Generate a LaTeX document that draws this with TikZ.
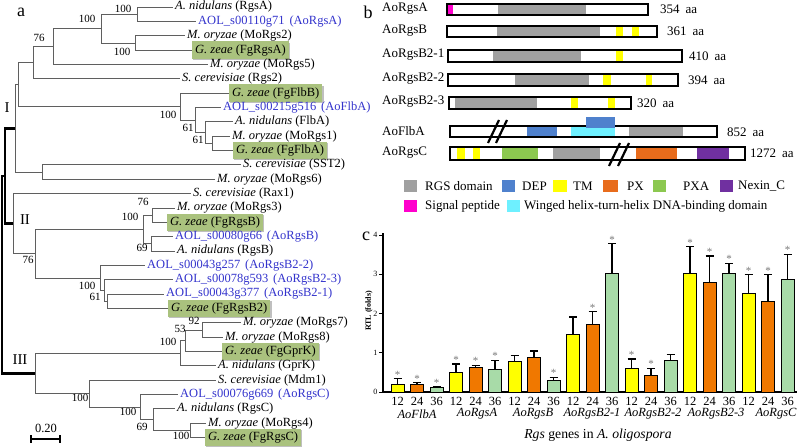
\documentclass[tikz,border=0pt]{standalone}
\usepackage{fontspec}
\setmainfont{Liberation Serif}
\newfontfamily\tnr{Liberation Serif}
\usetikzlibrary{shadows}
\definecolor{aolblue}{RGB}{51,51,204}
\definecolor{gzgreen}{RGB}{170,194,126}
\definecolor{treegray}{RGB}{95,95,95}
\definecolor{rgsgray}{RGB}{160,160,160}
\definecolor{depblue}{RGB}{79,129,205}
\definecolor{tmyellow}{RGB}{255,255,0}
\definecolor{pxorange}{RGB}{232,108,28}
\definecolor{pxagreen}{RGB}{140,200,80}
\definecolor{nexpurple}{RGB}{112,48,160}
\definecolor{sigmag}{RGB}{255,0,204}
\definecolor{wingcyan}{RGB}{110,240,255}
\definecolor{baryellow}{RGB}{255,255,0}
\definecolor{barorange}{RGB}{240,120,0}
\definecolor{bargreen}{RGB}{168,219,168}
\definecolor{stargray}{RGB}{120,120,120}
\begin{document}
\begin{tikzpicture}[x=1pt,y=-1pt,font=\tnr]
\useasboundingbox (0,0) rectangle (800,447);
\tikzset{
 br/.style={draw=treegray, line width=0.8pt},
 bb/.style={draw=black, line width=2.6pt},
 lf/.style={anchor=west, inner xsep=2pt, inner ysep=1pt, font=\tnr\fontsize{12.5}{14}\selectfont},
 aol/.style={lf, text=aolblue},
 gz/.style={anchor=west, fill=gzgreen, inner xsep=3pt, inner ysep=3pt, font=\tnr\fontsize{12.5}{14}\selectfont,
   drop shadow={shadow xshift=1.2pt, shadow yshift=-1.2pt, fill=black, opacity=0.25}},
 bs/.style={inner sep=0pt, font=\tnr\fontsize{11}{12}\selectfont},
 rn/.style={inner sep=0pt, font=\tnr\fontsize{15}{16}\selectfont},
 pl/.style={anchor=west, inner sep=0pt, font=\tnr\fontsize{13}{15}\selectfont},
 ob/.style={draw=black, line width=2.4pt},
 brk/.style={draw=black, line width=2.2pt},
 star/.style={anchor=base, inner sep=0pt, text=stargray, font=\tnr\fontsize{11}{12}\selectfont},
 xt/.style={inner sep=0pt, font=\tnr\fontsize{12.5}{14}\selectfont},
 gn/.style={inner sep=0pt, font=\tnr\fontsize{12.5}{14}\selectfont\itshape},
 yt/.style={anchor=east, inner sep=0pt, font=\tnr\fontsize{8}{9}\selectfont},
 pan/.style={inner sep=0pt, font=\tnr\fontsize{18}{20}\selectfont},
}
% ---------------- panel a ----------------
\node[pan] (pa) at (21,12) {a};
\node[lf] (L0) at (173,7) {\textit{A. nidulans} (RgsA)};
\node[aol] (L1) at (196,21.35) {AOL\_s00110g71\hspace{0.4em}(AoRgsA)};
\node[lf] (L2) at (185,35.7) {\textit{M. oryzae} (MoRgs2)};
\node[gz] (L3) at (192,50.05) {\textit{G. zeae} (FgRgsA)\hspace{12pt}};
\node[lf] (L4) at (208,64.4) {\textit{M. oryzae} (MoRgs5)};
\node[lf] (L5) at (180,78.75) {\textit{S. cerevisiae} (Rgs2)};
\node[gz] (L6) at (229,93.1) {\textit{G. zeae} (FgFlbB)\hspace{8pt}};
\node[aol] (L7) at (221,107.45) {AOL\_s00215g516\hspace{0.4em}(AoFlbA)};
\node[lf] (L8) at (233,121.8) {\textit{A. nidulans} (FlbA)};
\node[lf] (L9) at (230,136.15) {\textit{M. oryzae} (MoRgs1)};
\node[gz] (L10) at (233,150.5) {\textit{G. zeae} (FgFlbA)\hspace{8pt}};
\node[lf] (L11) at (241,164.85) {\textit{S. cerevisiae} (SST2)};
\node[lf] (L12) at (215,179.2) {\textit{M. oryzae} (MoRgs6)};
\node[lf] (L13) at (191,193.55) {\textit{S. cerevisiae} (Rax1)};
\node[lf] (L14) at (175,207.9) {\textit{M. oryzae} (MoRgs3)};
\node[gz] (L15) at (167,222.25) {\textit{G. zeae} (FgRgsB)};
\node[aol] (L16) at (173,236.6) {AOL\_s00080g66\hspace{0.4em}(AoRgsB)};
\node[lf] (L17) at (175,250.95) {\textit{A. nidulans} (RgsB)};
\node[aol] (L18) at (145,265.3) {AOL\_s00043g257\hspace{0.4em}(AoRgsB2-2)};
\node[aol] (L19) at (173,279.65) {AOL\_s00078g593\hspace{0.4em}(AoRgsB2-3)};
\node[aol] (L20) at (164,294) {AOL\_s00043g377\hspace{0.4em}(AoRgsB2-1)};
\node[gz] (L21) at (168,308.35) {\textit{G. zeae} (FgRgsB2)\hspace{10pt}};
\node[lf] (L22) at (241,322.7) {\textit{M. oryzae} (MoRgs7)};
\node[lf] (L23) at (223,337.05) {\textit{M. oryzae} (MoRgs8)};
\node[gz] (L24) at (222,351.4) {\textit{G. zeae} (FgGprK)\hspace{7pt}};
\node[lf] (L25) at (216,365.75) {\textit{A. nidulans} (GprK)};
\node[lf] (L26) at (216,380.1) {\textit{S. cerevisiae} (Mdm1)};
\node[aol] (L27) at (178,394.45) {AOL\_s00076g669\hspace{0.4em}(AoRgsC)};
\node[lf] (L28) at (175,408.8) {\textit{A. nidulans} (RgsC)};
\node[lf] (L29) at (206,423.15) {\textit{M. oryzae} (MoRgs4)};
\node[gz] (L30) at (205,437.5) {\textit{G. zeae} (FgRgsC)\hspace{6pt}};
% internal nodes
\coordinate (n1) at (137,14.2);
\coordinate (n2) at (135,42.9);
\coordinate (n3) at (101,28.55);
\coordinate (n4) at (53,46.5);
\coordinate (n5) at (33,62.6);
\coordinate (f4) at (212,143.3);
\coordinate (f3) at (205,132.6);
\coordinate (f2) at (195,120);
\coordinate (f1) at (180,106.6);
\coordinate (nA) at (18,84.6);
\coordinate (nS) at (42,172);
\coordinate (nI) at (15,128.3);
\coordinate (b1) at (152,215.1);
\coordinate (b2) at (151,243.8);
\coordinate (b3) at (143,229.4);
\coordinate (x3) at (107,301.2);
\coordinate (x2) at (104,290.4);
\coordinate (x1) at (100,277.9);
\coordinate (nB) at (35,253.6);
\coordinate (nII) at (13,223.6);
\coordinate (y3) at (202,329.9);
\coordinate (y2) at (185,340.6);
\coordinate (y1) at (180,353.2);
\coordinate (c3) at (190,430.3);
\coordinate (c2) at (153,419.6);
\coordinate (c1) at (140,407);
\coordinate (cM) at (89,393.6);
\coordinate (nIII) at (35,373.4);
\coordinate (kI) at (5,128.3);
\coordinate (kII) at (5,223.6);
\coordinate (kM) at (5,176);
\coordinate (kR) at (2,176);
\coordinate (kIII) at (2,373.4);
% branches
\draw[br] (n1) |- (L0.west) (n1) |- (L1.west);
\draw[br] (n2) |- (L2.west) (n2) |- (L3.west);
\draw[br] (n3) |- (n1) (n3) |- (n2);
\draw[br] (n4) |- (n3) (n4) |- (L4.west);
\draw[br] (n5) |- (n4) (n5) |- (L5.west);
\draw[br] (f4) |- (L9.west) (f4) |- (L10.west);
\draw[br] (f3) |- (L8.west) (f3) |- (f4);
\draw[br] (f2) |- (L7.west) (f2) |- (f3);
\draw[br] (f1) |- (L6.west) (f1) |- (f2);
\draw[br] (nA) |- (n5) (nA) |- (f1);
\draw[br] (nS) |- (L11.west) (nS) |- (L12.west);
\draw[br] (nI) |- (nA) (nI) |- (nS);
\draw[br] (b1) |- (L14.west) (b1) |- (L15.west);
\draw[br] (b2) |- (L16.west) (b2) |- (L17.west);
\draw[br] (b3) |- (b1) (b3) |- (b2);
\draw[br] (x3) |- (L20.west) (x3) |- (L21.west);
\draw[br] (x2) |- (L19.west) (x2) |- (x3);
\draw[br] (x1) |- (L18.west) (x1) |- (x2);
\draw[br] (nB) |- (b3) (nB) |- (x1);
\draw[br] (nII) |- (L13.west) (nII) |- (nB);
\draw[br] (y3) |- (L22.west) (y3) |- (L23.west);
\draw[br] (y2) |- (y3) (y2) |- (L24.west);
\draw[br] (y1) |- (y2) (y1) |- (L25.west);
\draw[br] (c3) |- (L29.west) (c3) |- (L30.west);
\draw[br] (c2) |- (L28.west) (c2) |- (c3);
\draw[br] (c1) |- (L27.west) (c1) |- (c2);
\draw[br] (cM) |- (L26.west) (cM) |- (c1);
\draw[br] (nIII) |- (y1) (nIII) |- (cM);
\draw[bb] (nI) -- (kI) -- (kII) -- (nII);
\draw[bb] (kM) -- (kR) -- (kIII) -- (nIII);
% bootstrap values
\node[bs] (bs1) at (123,9) {100};
\node[bs] (bs2) at (87,19) {100};
\node[bs] (bs3) at (122,52) {100};
\node[bs] (bs4) at (39,38) {76};
\node[bs] (bs5) at (168,115) {100};
\node[bs] (bs6) at (188,128) {61};
\node[bs] (bs7) at (198,140) {61};
\node[bs] (bs8) at (143,202) {76};
\node[bs] (bs9) at (130,217) {100};
\node[bs] (bs10) at (142,248) {69};
\node[bs] (bs11) at (28,260) {76};
\node[bs] (bs12) at (87,286) {100};
\node[bs] (bs13) at (95,297) {61};
\node[bs] (bs14) at (194,321) {92};
\node[bs] (bs15) at (180,329) {53};
\node[bs] (bs16) at (168,342) {100};
\node[bs] (bs17) at (80,398) {100};
\node[bs] (bs18) at (128,412) {100};
\node[bs] (bs19) at (142,427) {69};
\node[bs] (bs20) at (181,436) {100};
% clade numerals
\node[rn] (rI) at (7,108) {I};
\node[rn] (rII) at (25,220) {II};
\node[rn] (rIII) at (20,360) {III};
% scale bar
\node[inner sep=0pt, font=\tnr\fontsize{12.5}{14}\selectfont] (sbl) at (46,428) {0.20};
\coordinate (sb1) at (31,439);
\coordinate (sb2) at (60,439);
\draw[line width=1.8pt] (sb1) -- (sb2);
\draw[line width=1.2pt] (31,435) -- (31,443) (60,435) -- (60,443);
% ---------------- panel b ----------------
\node[pan] (pb) at (368,12) {b};
% AoRgsA
\node[pl] (pA) at (382,8.5) {AoRgsA};
\fill[white] (447,4) rectangle (648,15);
\fill[sigmag] (447,4) rectangle (453,15);
\fill[rgsgray] (498,4) rectangle (586,15);
\draw[ob] (447,4) rectangle (648,15);
\node[pl] (aA) at (660,9.5) {354\hspace{0.45em}aa};
% AoRgsB
\node[pl] (pB) at (382,30.5) {AoRgsB};
\fill[white] (447,26) rectangle (657,37);
\fill[rgsgray] (497,26) rectangle (600,37);
\fill[tmyellow] (616,26) rectangle (623,37);
\fill[tmyellow] (632,26) rectangle (639,37);
\draw[ob] (447,26) rectangle (657,37);
\node[pl] (aB) at (667,31.5) {361\hspace{0.45em}aa};
% AoRgsB2-1
\node[pl] (pB1) at (382,55) {AoRgsB2-1};
\fill[white] (448,50) rectangle (682,62);
\fill[rgsgray] (493,50) rectangle (581,62);
\fill[tmyellow] (616,50) rectangle (623,62);
\draw[ob] (448,50) rectangle (682,62);
\node[pl] (aB1) at (689,56) {410\hspace{0.45em}aa};
% AoRgsB2-2
\node[pl] (pB2) at (382,79) {AoRgsB2-2};
\fill[white] (448,74) rectangle (678,86);
\fill[rgsgray] (515,74) rectangle (589,86);
\fill[tmyellow] (603,74) rectangle (611,86);
\fill[tmyellow] (646,74) rectangle (652,86);
\draw[ob] (448,74) rectangle (678,86);
\node[pl] (aB2) at (688,80) {394\hspace{0.45em}aa};
% AoRgsB2-3
\node[pl] (pB3) at (382,102) {AoRgsB2-3};
\fill[white] (449,97) rectangle (631,109);
\fill[rgsgray] (455,97) rectangle (537,109);
\fill[tmyellow] (571,97) rectangle (578,109);
\fill[tmyellow] (608,97) rectangle (615,109);
\draw[ob] (449,97) rectangle (631,109);
\node[pl] (aB3) at (637,103) {320\hspace{0.45em}aa};
% AoFlbA
\node[pl] (pF) at (382,131) {AoFlbA};
\fill[white] (450,126) rectangle (717,137);
\fill[depblue] (527,126) rectangle (557,137);
\fill[wingcyan] (571,126) rectangle (615,137);
\fill[rgsgray] (629,126) rectangle (683,137);
\draw[ob] (450,126) rectangle (717,137);
\fill[depblue] (586,117) rectangle (615,127.5);
\draw[brk] (488,143) -- (499,120) (496,143) -- (507,120);
\node[pl] (aF) at (727,132) {852\hspace{0.45em}aa};
% AoRgsC
\node[pl] (pC) at (382,152.5) {AoRgsC};
\fill[white] (450,147) rectangle (745,160);
\fill[tmyellow] (457,147) rectangle (465,160);
\fill[tmyellow] (473,147) rectangle (480,160);
\fill[pxagreen] (502,147) rectangle (538,160);
\fill[rgsgray] (553,147) rectangle (600,160);
\fill[pxorange] (636,147) rectangle (677,160);
\fill[nexpurple] (697,147) rectangle (729,160);
\draw[ob] (450,147) rectangle (745,160);
\draw[brk] (609,166) -- (620,143) (618,166) -- (629,143);
\node[pl] (aC) at (750,153.5) {1272\hspace{0.45em}aa};
% legend
\fill[rgsgray] (404,180) rectangle (417,192);
\node[pl] (lg1) at (425,186) {RGS domain};
\fill[depblue] (502,180) rectangle (515,192);
\node[pl] (lg2) at (522,186) {DEP};
\fill[tmyellow] (553,180) rectangle (567,192);
\node[pl] (lg3) at (573,186) {TM};
\fill[pxorange] (603,180) rectangle (618,192);
\node[pl] (lg4) at (627,186) {PX};
\fill[pxagreen] (653,180) rectangle (666,192);
\node[pl] (lg5) at (683,186) {PXA};
\fill[nexpurple] (720,180) rectangle (733,192);
\node[pl] (lg6) at (738,186) {Nexin\_C};
\fill[sigmag] (404,200) rectangle (417,212);
\node[pl] (lg7) at (425,206) {Signal peptide};
\fill[wingcyan] (507,200) rectangle (520,212);
\node[pl] (lg8) at (524,206) {Winged helix-turn-helix DNA-binding domain};
% ---------------- panel c ----------------
\node[pan] (pc) at (366,236) {c};
\draw[line width=1.3pt] (383,233) -- (383,392) -- (797,392);
\foreach \k in {0,...,4}{
  \pgfmathsetmacro\yy{392-39.25*\k}
  \draw[line width=1pt] (379,\yy) -- (383,\yy);
  \node[yt] (yt\k) at (377.5,\yy) {\k};
}
\node[rotate=90, inner sep=0pt, font=\tnr\fontsize{8}{9}\selectfont\bfseries] (ylab) at (369,311) {RTL (folds)};
\foreach \i/\vv/\ee/\st/\col in {0/0.20/0.34/1/baryellow, 1/0.19/0.24/1/barorange, 2/0.11/0.14/1/bargreen,
  3/0.51/0.71/1/baryellow, 4/0.63/0.68/1/barorange, 5/0.57/0.81/1/bargreen,
  6/0.79/0.93/0/baryellow, 7/0.89/1.04/0/barorange, 8/0.30/0.37/1/bargreen,
  9/1.47/1.91/0/baryellow, 10/1.71/2.05/1/barorange, 11/3.02/3.78/1/bargreen,
  12/0.60/0.84/1/baryellow, 13/0.43/0.60/1/barorange, 14/0.81/0.96/0/bargreen,
  15/3.02/3.70/1/baryellow, 16/2.80/3.47/1/barorange, 17/3.02/3.28/1/bargreen,
  18/2.52/2.99/1/baryellow, 19/2.31/2.99/1/barorange, 20/2.86/3.51/1/bargreen}{
  \pgfmathsetmacro\xc{397.5+19.5*\i}
  \pgfmathsetmacro\yt{392-39.25*\vv}
  \pgfmathsetmacro\ye{392-39.25*\ee}
  \draw[line width=1.4pt] (\xc,\yt) -- (\xc,\ye);
  \draw[line width=1.4pt] ({\xc-4},\ye) -- ({\xc+4},\ye);
  \draw[fill=\col, line width=0.9pt] ({\xc-6.5},392) rectangle ({\xc+6.5},\yt);
  \ifnum\st=1 \node[star] (s\i) at (\xc,{\ye-0.5}) {*};\fi
}
\foreach \i/\t in {0/12,1/24,2/36,3/12,4/24,5/36,6/12,7/24,8/36,9/12,10/24,11/36,12/12,13/24,14/36,15/12,16/24,17/36,18/12,19/24,20/36}{
  \pgfmathsetmacro\xc{397.5+19.5*\i}
  \node[xt] (xt\i) at (\xc,401) {\t};
}
\node[gn] (g1) at (417,414) {AoFlbA};
\node[gn] (g2) at (477,414) {AoRgsA};
\node[gn] (g3) at (533,414) {AoRgsB};
\node[gn] (g4) at (592,414) {AoRgsB2-1};
\node[gn] (g5) at (653,414) {AoRgsB2-2};
\node[gn] (g6) at (716,414) {AoRgsB2-3};
\node[gn] (g7) at (776,414) {AoRgsC};
\node[inner sep=0pt, font=\tnr\fontsize{13.7}{15}\selectfont] (ctitle) at (598,435) {\textit{Rgs} genes in \textit{A. oligospora}};
\end{tikzpicture}
\end{document}
